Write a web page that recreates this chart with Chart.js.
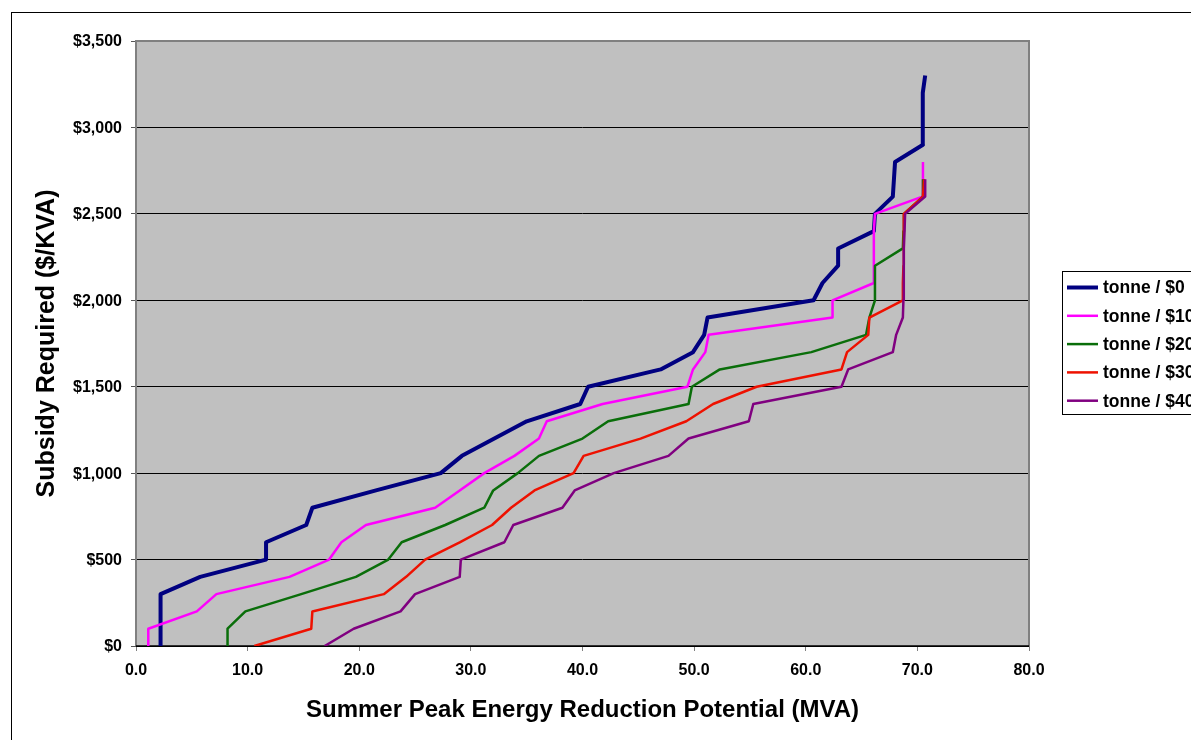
<!DOCTYPE html>
<html>
<head>
<meta charset="utf-8">
<title>Subsidy Required vs Summer Peak Energy Reduction Potential</title>
<script src="https://cdn.jsdelivr.net/npm/chart.js@4.4.1/dist/chart.umd.min.js"></script>
<style>
  html, body { margin: 0; padding: 0; background: #fff; overflow: hidden; }
  canvas { display: block; }
</style>
</head>
<body>
<canvas id="chart" width="1191" height="740"></canvas>
<script>
// subsidy levels ($/KVA) - every curve has one point per $100 step
const subsidyLevels = [0, 100, 200, 300, 400, 500, 600, 700, 800, 900,
  1000, 1100, 1200, 1300, 1400, 1500, 1600, 1700, 1800, 1900,
  2000, 2100, 2200, 2300, 2400, 2500, 2600, 2700, 2800, 2900,
  3000, 3100, 3200, 3300];

const seriesLabels = ['tonne / $0', 'tonne / $10', 'tonne / $20', 'tonne / $30', 'tonne / $40'];

// reduction potential (MVA) reached at each subsidy level
const mvaCarbon0 = [2.2, 2.2, 2.2, 2.2, 5.75, 11.65, 11.65, 15.25, 15.8, 21.5,
  27.3, 29.2, 32.1, 35.0, 39.8, 40.5, 47.0, 49.9, 50.9, 51.2,
  60.7, 61.5, 62.9, 62.9, 66.1, 66.2, 67.8, 67.9, 68.0, 70.5,
  70.5, 70.5, 70.45, 70.7];
const mvaCarbon10 = [1.1, 1.1, 5.45, 7.2, 13.75, 17.3, 18.4, 20.6, 26.8, 29.0,
  31.2, 33.9, 36.1, 36.8, 41.8, 49.4, 49.9, 51.0, 51.3, 62.4,
  62.4, 66.1, 66.1, 66.1, 66.1, 66.2, 70.45, 70.5, 70.5];
const mvaCarbon20 = [8.2, 8.2, 9.8, 14.8, 19.7, 22.6, 23.8, 27.7, 31.2, 32.0,
  34.2, 36.1, 40.0, 42.3, 49.5, 49.8, 52.3, 60.5, 65.4, 65.7,
  66.2, 66.2, 66.2, 68.7, 68.75, 68.8, 70.5, 70.5];
const mvaCarbon30 = [10.6, 15.7, 15.8, 22.2, 24.2, 25.9, 29.0, 31.9, 33.6, 35.7,
  39.2, 40.1, 45.2, 49.3, 51.7, 55.6, 63.2, 63.7, 65.6, 65.7,
  68.7, 68.7, 68.75, 68.75, 68.8, 68.8, 70.5, 70.6];
const mvaCarbon40 = [16.9, 19.5, 23.7, 25.0, 29.0, 29.1, 33.0, 33.8, 38.2, 39.3,
  42.8, 47.7, 49.5, 54.9, 55.3, 63.2, 63.8, 67.8, 68.1, 68.7,
  68.75, 68.75, 68.8, 68.8, 68.85, 68.9, 70.7, 70.7];

const toPoints = (mva) => mva.map((x, i) => ({ x: x, y: subsidyLevels[i] }));

Chart.defaults.font.family = '"Liberation Sans", Arial, sans-serif';
Chart.defaults.color = '#000';

// plot background, frame and the (clipped) legend box on the right
const excelLook = {
  id: 'excelLook',
  beforeDraw(chart) {
    const { ctx, chartArea: a } = chart;
    ctx.save();
    ctx.fillStyle = '#c0c0c0';
    ctx.fillRect(a.left, a.top, a.right - a.left, a.bottom - a.top);
    ctx.strokeStyle = '#000';
    ctx.lineWidth = 1;
    ctx.strokeRect(11.5, 12.5, 1500, 1000);
    ctx.restore();
  },
  beforeDatasetsDraw(chart) {
    const { ctx, chartArea: a } = chart;
    ctx.save();
    ctx.strokeStyle = '#808080';
    ctx.lineWidth = 2;
    ctx.beginPath();
    ctx.moveTo(a.left, a.bottom);
    ctx.lineTo(a.left, a.top);
    ctx.lineTo(a.right, a.top);
    ctx.lineTo(a.right, a.bottom);
    ctx.stroke();
    ctx.strokeStyle = '#000';
    ctx.lineWidth = 1.5;
    ctx.beginPath();
    ctx.moveTo(a.left, a.bottom);
    ctx.lineTo(a.right, a.bottom);
    ctx.stroke();
    ctx.restore();
  },
  afterDraw(chart) {
    const ctx = chart.ctx;
    const left = 1062, top = 271, rowH = 28.3;
    ctx.save();
    ctx.fillStyle = '#fff';
    ctx.fillRect(left, top, 300, 143);
    ctx.strokeStyle = '#000';
    ctx.lineWidth = 1;
    ctx.strokeRect(left + 0.5, top + 0.5, 300, 143);
    ctx.font = 'bold 17.5px "Liberation Sans", Arial, sans-serif';
    ctx.textBaseline = 'middle';
    ctx.textAlign = 'left';
    chart.data.datasets.forEach((ds, i) => {
      const y = top + 16.5 + i * rowH;
      ctx.strokeStyle = ds.borderColor;
      ctx.lineWidth = ds.borderWidth;
      ctx.beginPath();
      ctx.moveTo(left + 5, y);
      ctx.lineTo(left + 36, y);
      ctx.stroke();
      ctx.fillStyle = '#000';
      ctx.fillText(ds.label, left + 41, y + 1);
    });
    ctx.restore();
  }
};

const lineStyle = { showLine: true, pointRadius: 0, tension: 0, fill: false, borderJoinStyle: 'round' };

new Chart(document.getElementById('chart'), {
  type: 'scatter',
  data: {
    datasets: [
      { ...lineStyle, label: seriesLabels[0], data: toPoints(mvaCarbon0), borderColor: '#000080', borderWidth: 4, order: 5 },
      { ...lineStyle, label: seriesLabels[1], data: toPoints(mvaCarbon10), borderColor: '#ff00ff', borderWidth: 2.5, order: 4 },
      { ...lineStyle, label: seriesLabels[2], data: toPoints(mvaCarbon20), borderColor: '#0a6e0a', borderWidth: 2.5, order: 3 },
      { ...lineStyle, label: seriesLabels[3], data: toPoints(mvaCarbon30), borderColor: '#ee1100', borderWidth: 2.5, order: 2 },
      { ...lineStyle, label: seriesLabels[4], data: toPoints(mvaCarbon40), borderColor: '#800080', borderWidth: 2.5, order: 1 }
    ]
  },
  options: {
    responsive: false,
    animation: false,
    layout: { padding: { top: 41, right: 162, bottom: 0, left: 0 } },
    plugins: {
      legend: { display: false },
      tooltip: { enabled: false }
    },
    scales: {
      x: {
        type: 'linear',
        min: 0,
        max: 80,
        afterFit: (scale) => { scale.height = 94; },
        ticks: {
          stepSize: 10,
          padding: 10,
          maxRotation: 0,
          font: { size: 16, weight: 'bold' },
          callback: (v) => v.toFixed(1)
        },
        grid: { drawOnChartArea: false, drawTicks: true, tickLength: 5, tickColor: '#808080' },
        border: { display: false },
        title: {
          display: true,
          text: 'Summer Peak Energy Reduction Potential (MVA)',
          font: { size: 24, weight: 'bold' },
          padding: { top: 0, bottom: 15.6 }
        }
      },
      y: {
        type: 'linear',
        min: 0,
        max: 3500,
        afterFit: (scale) => { scale.width = 136; },
        ticks: {
          stepSize: 500,
          padding: 9,
          labelOffset: 1,
          font: { size: 16, weight: 'bold' },
          callback: (v) => '$' + v.toLocaleString('en-US')
        },
        grid: { color: '#000', lineWidth: 1, drawTicks: true, tickLength: 5, tickColor: '#555' },
        border: { display: false },
        title: {
          display: true,
          text: 'Subsidy Required ($/KVA)',
          font: { size: 25, weight: 'bold' },
          padding: { top: 32, bottom: 0 }
        }
      }
    }
  },
  plugins: [excelLook]
});
</script>
</body>
</html>
